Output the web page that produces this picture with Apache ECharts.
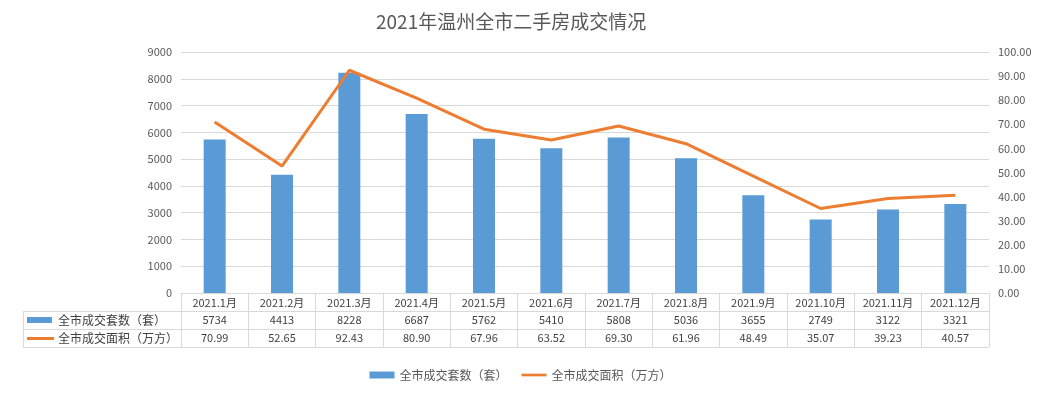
<!DOCTYPE html>
<html><head><meta charset="utf-8">
<script src="https://cdn.jsdelivr.net/npm/echarts@6/dist/echarts.min.js"></script>
<style>html,body{margin:0;padding:0;background:#fff}#c{width:1041px;height:394px}</style>
</head><body><div id="c"></div>
<script>
const title = '2021年温州全市二手房成交情况';
const categories = ['2021.1月','2021.2月','2021.3月','2021.4月','2021.5月','2021.6月','2021.7月','2021.8月','2021.9月','2021.10月','2021.11月','2021.12月'];
const countName = '全市成交套数（套）';
const areaName = '全市成交面积（万方）';
const countValues = [5734,4413,8228,6687,5762,5410,5808,5036,3655,2749,3122,3321];
const areaValues = [70.99,52.65,92.43,80.90,67.96,63.52,69.30,61.96,48.49,35.07,39.23,40.57];

const FONT = '"Noto Sans CJK SC", "Microsoft YaHei", sans-serif';
const BLUE = '#5B9BD5', ORANGE = '#ED7D31', GRID = '#D9D9D9', TXT = '#595959';
const chart = echarts.init(document.getElementById('c'));
const G = {left:181, right:52, top:52, bottom:101};
const option = {
  animation:false,
  textStyle:{fontFamily:FONT},
  title:{text:title, left:371, top:7, textStyle:{fontFamily:FONT, fontSize:19, fontWeight:'normal', color:TXT}},
  grid:{left:G.left, right:G.right, top:G.top, bottom:G.bottom, containLabel:false},
  legend:{bottom:8, left:'center', itemGap:14, itemWidth:25, itemHeight:7,
    textStyle:{fontFamily:FONT, fontSize:12, color:TXT},
    data:[{name:countName, icon:'rect'},{name:areaName, icon:'path://M0,0h30v3.2h-30z'}]},
  xAxis:{type:'category', data:categories, boundaryGap:true,
    axisLine:{show:true, lineStyle:{color:GRID}},
    axisTick:{show:true, interval:0, length:54, alignWithLabel:false, lineStyle:{color:GRID}},
    axisLabel:{interval:0, margin:4, fontSize:11, color:'#404040', fontFamily:FONT}},
  yAxis:[
    {type:'value', min:0, max:9000, interval:1000,
      axisLine:{show:false}, axisTick:{show:false},
      axisLabel:{margin:9, fontSize:11, color:TXT, fontFamily:FONT, formatter:v=>String(v)},
      splitLine:{lineStyle:{color:GRID}}},
    {type:'value', min:0, max:100, interval:10, position:'right',
      axisLine:{show:false}, axisTick:{show:false},
      axisLabel:{margin:9, fontSize:11, color:TXT, fontFamily:FONT, formatter:v=>v.toFixed(2)},
      splitLine:{show:false}}
  ],
  series:[
    {name:countName, type:'bar', data:countValues, barWidth:22, itemStyle:{color:BLUE}, yAxisIndex:0},
    {name:areaName, type:'line', data:areaValues, yAxisIndex:1, symbol:'none',
      lineStyle:{color:ORANGE, width:3}, itemStyle:{color:ORANGE}}
  ]
};
chart.setOption(option);

// data table below the plot, positioned from the category axis
function buildTable(){
  const yTop = 293, rowH = 18;
  const x0 = 23, xR = 1041 - G.right;
  const els = [];
  const line = (x1,y1,x2,y2)=>els.push({type:'line', silent:true, shape:{x1,y1,x2,y2}, style:{stroke:GRID, lineWidth:1}});
  line(x0, yTop+rowH+0.5, xR, yTop+rowH+0.5);
  line(x0, yTop+2*rowH+0.5, xR, yTop+2*rowH+0.5);
  line(x0, yTop+3*rowH+0.5, xR, yTop+3*rowH+0.5);
  line(x0+0.5, yTop+rowH, x0+0.5, yTop+3*rowH);
  els.push({type:'rect', silent:true, shape:{x:27, y:yTop+rowH+6, width:25, height:6}, style:{fill:BLUE}});
  els.push({type:'rect', silent:true, shape:{x:27, y:yTop+2*rowH+8, width:27, height:3}, style:{fill:ORANGE}});
  els.push({type:'text', silent:true, style:{text:countName, x:58, y:yTop+rowH+rowH/2, textVerticalAlign:'middle', verticalAlign:'middle', font:'12px '+FONT, fill:'#404040'}});
  els.push({type:'text', silent:true, style:{text:areaName, x:58, y:yTop+2*rowH+rowH/2, textVerticalAlign:'middle', verticalAlign:'middle', font:'12px '+FONT, fill:'#404040'}});
  categories.forEach((c,i)=>{
    const cx = chart.convertToPixel({xAxisIndex:0}, i);
    els.push({type:'text', silent:true, style:{text:String(countValues[i]), x:cx, y:yTop+rowH+rowH/2, align:'center', textAlign:'center', verticalAlign:'middle', textVerticalAlign:'middle', font:'11px '+FONT, fill:'#404040'}});
    els.push({type:'text', silent:true, style:{text:areaValues[i].toFixed(2), x:cx, y:yTop+2*rowH+rowH/2, align:'center', textAlign:'center', verticalAlign:'middle', textVerticalAlign:'middle', font:'11px '+FONT, fill:'#404040'}});
  });
  chart.setOption({graphic:{elements:els}});
}
buildTable();
</script></body></html>
